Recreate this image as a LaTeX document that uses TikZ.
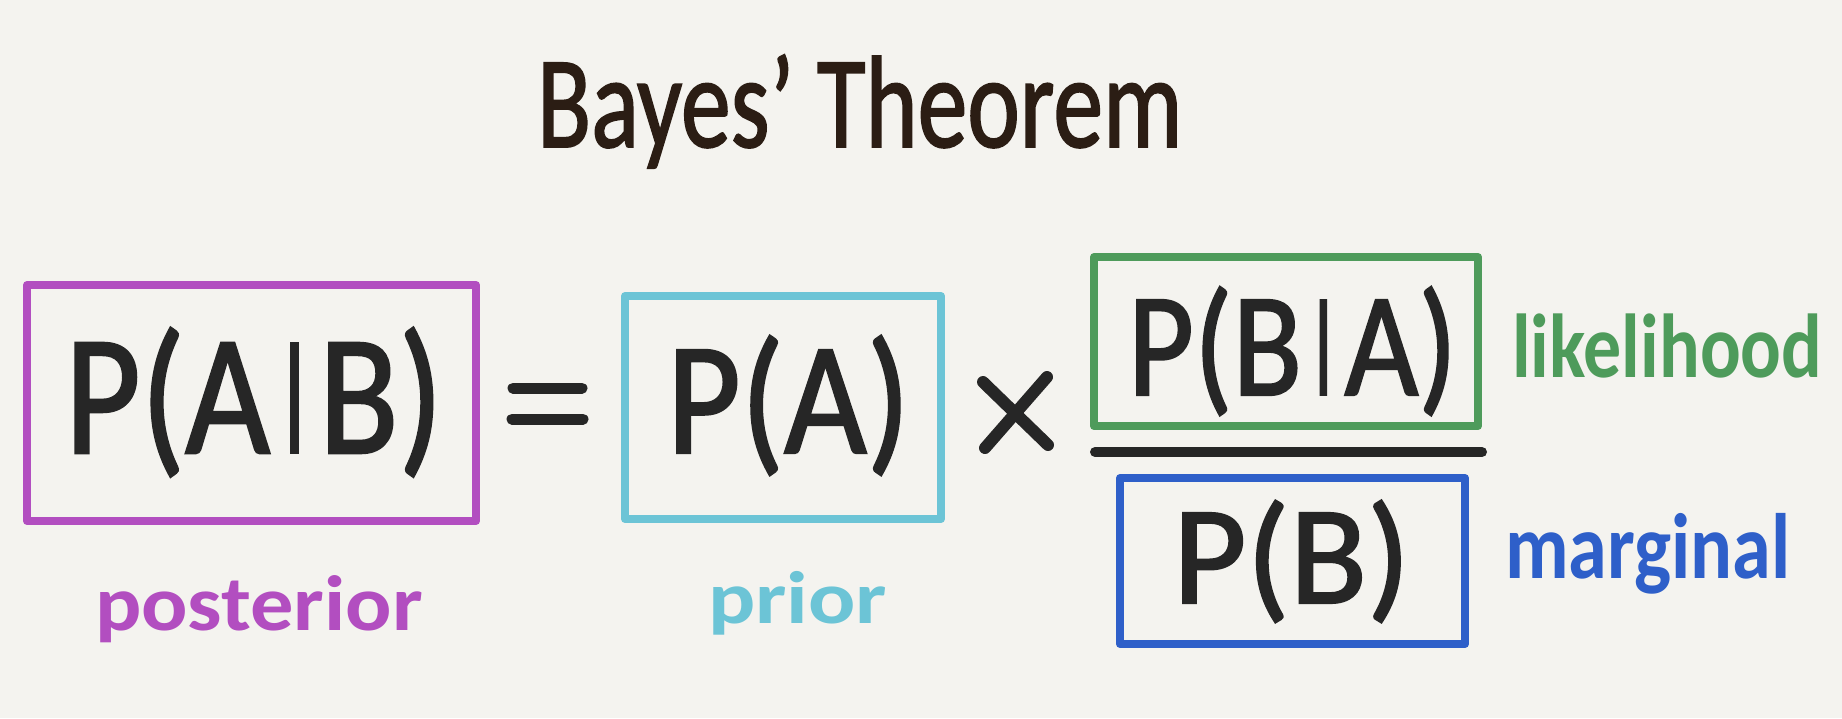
\documentclass[tikz,border=0pt]{standalone}
\usepackage{fontspec}
\setmainfont{Carlito}
\newfontfamily\penfont{Carlito}[FakeBold=1.5]
\usepackage{graphicx}
\definecolor{bgpaper}{HTML}{F4F3EF}
\definecolor{inkc}{HTML}{262626}
\definecolor{titlec}{HTML}{2B1D14}
\definecolor{purplec}{HTML}{B24EC0}
\definecolor{cyanc}{HTML}{6CC4D6}
\definecolor{greenc}{HTML}{4E9B5B}
\definecolor{bluec}{HTML}{2E5FC9}
\newlength{\mycapht}
% scale text so that its width is #1 and its cap height is #2
\newcommand{\capfit}[3]{\resizebox{#1}{#2}{\smash{#3}\vphantom{P}}}
% scale text so that its width is #1 and its x-height is #2
\newcommand{\xfit}[3]{\resizebox{#1}{#2}{\smash{#3}\rule{0pt}{1ex}}}
% a vertical bar that runs from the baseline to the cap height
\newcommand{\mybar}{\settoheight{\mycapht}{P}\resizebox{!}{\mycapht}{\raisebox{\depth}{|}}}
\tikzset{
  every node/.style={inner sep=0pt, outer sep=0pt},
  termbox/.style={draw=#1, line width=8pt, rectangle, line join=round},
  formula/.style={anchor=south west, text=inkc, font=\penfont},
  label/.style={anchor=south west, text=#1, font=\bfseries},
  pen/.style={draw=inkc, line cap=round},
}
\begin{document}
\begin{tikzpicture}[x=1pt, y=-1pt]
\fill[bgpaper] (0,0) rectangle (1842,718);
\useasboundingbox (0,0) rectangle (1842,718);

% title
\node[anchor=south west, text=titlec, font=\penfont] (title) at (537,147) {\capfit{645pt}{84pt}{Bayes’ Theorem}};

% boxes
\node[termbox=purplec, minimum width=449pt, minimum height=236pt] (postbox) at (251.5,403) {};
\node[termbox=cyanc, minimum width=316pt, minimum height=223pt] (priorbox) at (783,407.5) {};
\node[termbox=greenc, minimum width=384pt, minimum height=169pt] (likebox) at (1286,341.5) {};
\node[termbox=bluec, minimum width=345pt, minimum height=166pt] (margbox) at (1292.5,561) {};

% formulas
\node[formula] (pab) at (65,453) {\capfit{378pt}{110pt}{P(A\mybar B)}};
\node[formula] (pa) at (667,453) {\capfit{243pt}{103pt}{P(A)}};
\node[formula] (pba) at (1128,395) {\capfit{329pt}{95pt}{P(B\mybar A)}};
\node[formula] (pb) at (1173,603) {\capfit{237pt}{90pt}{P(B)}};

% equals sign
\draw[pen, line width=11pt] (513,388) -- (582,388);
\draw[pen, line width=11pt] (512,419) -- (583,419);
% times sign
\draw[pen, line width=12pt] (983,382) -- (1048,445);
\draw[pen, line width=12pt] (1047,377) -- (985,448);
% fraction bar
\draw[pen, line width=10pt] (1095,452) -- (1482,452);

% labels
\node[label=purplec] (posterior) at (95,630) {\xfit{328pt}{38pt}{posterior}};
\node[label=cyanc] (prior) at (708,623) {\xfit{179pt}{36pt}{prior}};
\node[label=greenc] (likelihood) at (1512,377) {\xfit{310pt}{44pt}{likelihood}};
\node[label=bluec] (marginal) at (1505,578) {\xfit{285pt}{45pt}{marginal}};
\end{tikzpicture}
\end{document}
